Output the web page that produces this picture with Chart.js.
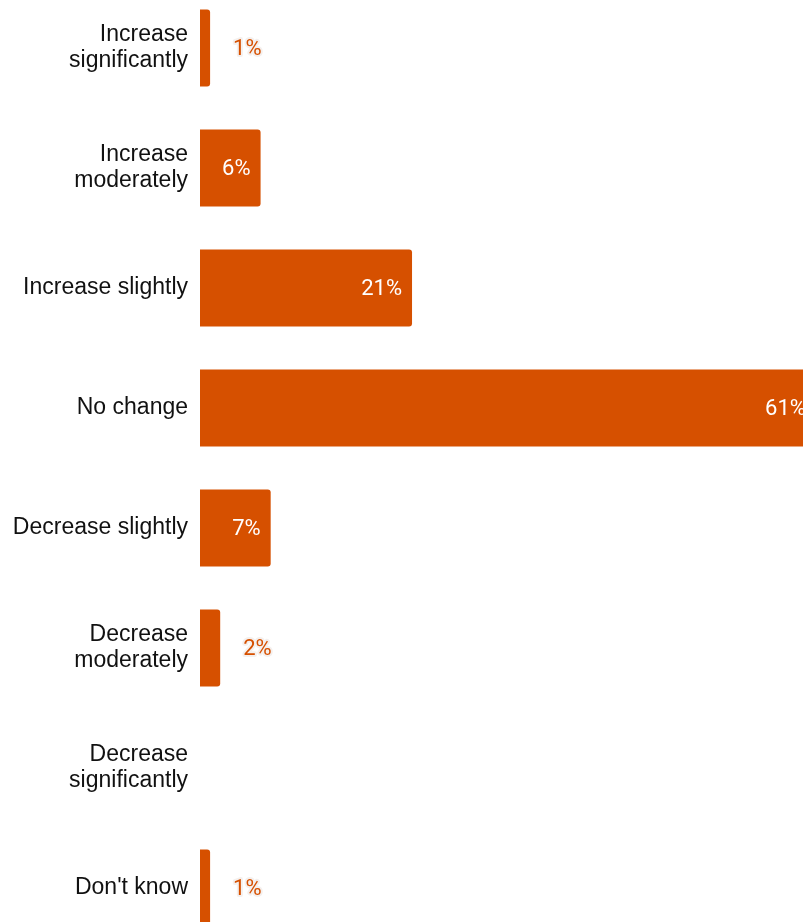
<!DOCTYPE html>
<html>
<head>
<meta charset="utf-8">
<script src="https://cdn.jsdelivr.net/npm/chart.js@4"></script>
<style>
  html, body { margin: 0; padding: 0; background: #fff; overflow: hidden; }
  #wrap { position: absolute; left: 0; top: -12px; width: 826px; height: 960px; }
</style>
</head>
<body>
<div id="wrap"><canvas id="graph"></canvas></div>
<script>
// categories and values
const categories = [
  ['Increase', 'significantly'],
  ['Increase', 'moderately'],
  'Increase slightly',
  'No change',
  'Decrease slightly',
  ['Decrease', 'moderately'],
  ['Decrease', 'significantly'],
  "Don't know"
];
const shares = [1, 6, 21, 61, 7, 2, 0, 1];

const barColor = '#d65000';

// draws the % labels: inside the bar for wide ones, outside with a white halo for small ones
const valueLabels = {
  id: 'valueLabels',
  afterDatasetsDraw(chart) {
    const ctx = chart.ctx;
    const meta = chart.getDatasetMeta(0);
    ctx.save();
    ctx.font = '22px Roboto';
    ctx.textBaseline = 'middle';
    meta.data.forEach((bar, i) => {
      const v = shares[i];
      if (!v) return;
      const txt = v + '%';
      if (v >= 5) {
        ctx.textAlign = 'right';
        ctx.fillStyle = '#ffffff';
        ctx.fillText(txt, bar.x - 10, bar.y + 1);
      } else {
        ctx.textAlign = 'left';
        ctx.lineWidth = 4;
        ctx.lineJoin = 'round';
        ctx.strokeStyle = '#f4f0ee';
        ctx.strokeText(txt, bar.x + 23, bar.y + 1);
        ctx.fillStyle = barColor;
        ctx.fillText(txt, bar.x + 23, bar.y + 1);
      }
    });
    ctx.restore();
  }
};

new Chart('graph', {
  type: 'bar',
  data: {
    labels: categories,
    datasets: [{
      data: shares,
      backgroundColor: barColor,
      borderRadius: 3,
      barPercentage: 0.64,
      categoryPercentage: 1
    }]
  },
  options: {
    indexAxis: 'y',
    responsive: true,
    maintainAspectRatio: false,
    animation: false,
    layout: { padding: 0 },
    plugins: { legend: { display: false }, tooltip: { enabled: false } },
    scales: {
      x: { display: false, min: 0, max: 62 },
      y: {
        grid: { display: false, drawTicks: false },
        border: { display: false },
        ticks: { color: '#111', font: { family: 'Liberation Sans', size: 23, lineHeight: 1.14 }, padding: 12 },
        afterFit(scale) {
          scale.width = 200;
          scale.paddingTop = 0;
          scale.paddingBottom = 0;
        }
      }
    }
  },
  plugins: [valueLabels]
});
</script>
</body>
</html>
